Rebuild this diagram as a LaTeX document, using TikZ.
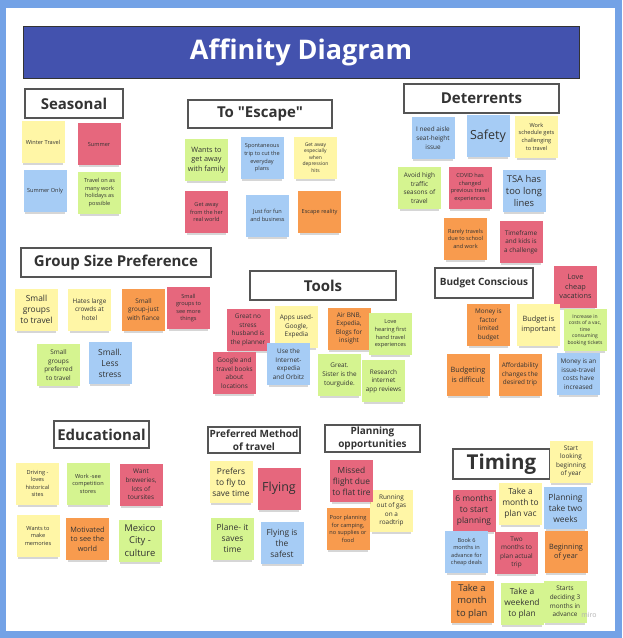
\documentclass[tikz,border=0pt]{standalone}
\usepackage{fontspec}
\setmainfont{Open Sans}[Ligatures=TeXOff]
\usetikzlibrary{shadows}

\definecolor{framebg}{HTML}{73A2E6}
\definecolor{titlebg}{HTML}{4352AE}
\definecolor{noteyellow}{HTML}{FFF6A6}
\definecolor{notered}{HTML}{E6677D}
\definecolor{noteblue}{HTML}{A6CCF5}
\definecolor{notegreen}{HTML}{D5F490}
\definecolor{noteorange}{HTML}{F89B4E}
\definecolor{inktext}{HTML}{333333}
\definecolor{boxline}{HTML}{555555}

\tikzset{
  note/.style={minimum width=43pt, minimum height=42pt, inner sep=1pt,
    align=center, text=inktext,
    drop shadow={shadow xshift=0pt, shadow yshift=-4pt, shadow scale=0.92,
      fill=black, opacity=0.16}},
  yel/.style={note, fill=noteyellow},
  red/.style={note, fill=notered},
  blu/.style={note, fill=noteblue},
  grn/.style={note, fill=notegreen},
  org/.style={note, fill=noteorange},
  fxs/.style={font=\fontsize{5}{6.6}\selectfont},
  fs/.style={font=\fontsize{5.6}{7.6}\selectfont},
  fm/.style={font=\fontsize{6.4}{8.6}\selectfont},
  fl/.style={font=\fontsize{7.3}{9.6}\selectfont},
  fxl/.style={font=\fontsize{8.4}{11}\selectfont},
  fxxl/.style={font=\fontsize{9.4}{12.2}\selectfont},
  fh/.style={font=\fontsize{12.5}{14}\selectfont},
  head/.style={draw=boxline, line width=1.1pt, fill=white, text=inktext,
    inner sep=0pt, align=center, font=\bfseries\fontsize{15}{17}\selectfont},
  headsm/.style={head, font=\bfseries\fontsize{10}{12.5}\selectfont},
}

\begin{document}
\begin{tikzpicture}[x=1pt, y=-1pt]
\useasboundingbox (0,0) rectangle (622,638);

% board frame
\fill[framebg] (0,0) rectangle (622,638);
\fill[white] (6,8) rectangle (615,631);

% title bar
\node[fill=titlebg, draw=inktext, line width=0.6pt, minimum width=556pt,
  minimum height=52pt, text=white,
  font=\bfseries\fontsize{27}{30}\selectfont] (title) at (301,52) {Affinity Diagram};

% ---------- Seasonal ----------
\node[head, minimum width=98pt, minimum height=29pt] (h-season) at (74,103.5) {Seasonal};
\node[yel, fs] (sea1) at (43,142) {Winter Travel};
\node[red, fs] (sea2) at (99,144) {Summer};
\node[blu, fs] (sea3) at (45,191) {Summer Only};
\node[grn, fs] (sea4) at (99.5,192.5) {Travel on as\\many work\\holidays as\\possible};

% ---------- To "Escape" ----------
\node[head, minimum width=144pt, minimum height=28pt] (h-escape) at (260,114) {To "Escape"};
\node[grn, fl] (esc1) at (206.5,160) {Wants to\\get away\\with family};
\node[blu, fs] (esc2) at (262,158) {Spontaneous\\trip to cut the\\everyday\\plans};
\node[yel, fxs] (esc3) at (315.5,157.5) {Get away\\especially\\when\\depression\\hits};
\node[red, fs] (esc4) at (206.5,212) {Get away\\from the her\\real world};
\node[blu, fs] (esc5) at (267.5,215.5) {Just for fun\\and business};
\node[org, fs] (esc6) at (319.5,212) {Escape reality};

% ---------- Deterrents ----------
\node[head, minimum width=155pt, minimum height=29pt] (h-deter) at (481.5,98.5) {Deterrents};
\node[blu, fm] (det1) at (433,138) {I need aisle\\seat-height\\issue};
\node[blu, fh] (det2) at (488,136) {Safety};
\node[yel, fs] (det3) at (536.5,136.5) {Work\\schedule gets\\challenging\\to travel};
\node[grn, fm] (det4) at (419.5,188) {Avoid high\\traffic\\seasons of\\travel};
\node[red, fs] (det5) at (470,187.5) {COVID has\\changed\\previous travel\\experiences};
\node[blu, fxxl] (det6) at (524,191) {TSA has\\too long\\lines};
\node[org, fs] (det7) at (465.5,238.5) {Rarely travels\\due to school\\and work};
\node[red, fm] (det8) at (521,242) {Timeframe\\and kids is\\a challenge};

% ---------- Group Size Preference ----------
\node[head, minimum width=190pt, minimum height=29pt] (h-group) at (116,262.5) {Group Size Preference};
\node[yel, fxl] (grp1) at (36.5,309.5) {Small\\groups\\to travel};
\node[yel, fm] (grp2) at (89.5,309.5) {Hates large\\crowds at\\hotel};
\node[org, fm] (grp3) at (143.5,309.5) {Small\\group-just\\with fiance};
\node[red, fs] (grp4) at (188.5,308) {Small\\groups to\\see more\\things};
\node[grn, fm] (grp5) at (58.5,365) {Small\\groups\\preferred\\to travel};
\node[blu, fxl] (grp6) at (110,363) {Small.\\Less\\stress};

% ---------- Tools ----------
\node[head, minimum width=146pt, minimum height=29pt] (h-tools) at (323,285.5) {Tools};
\node[red, fm] (tol1) at (248,330) {Great no\\stress\\husband is\\the planner};
\node[yel, fm] (tol2) at (296.5,326.5) {Apps used-\\Google,\\Expedia};
\node[org, fm] (tol3) at (349,328.5) {Air BNB,\\Expedia,\\Blogs for\\insight};
\node[grn, fs] (tol4) at (390.5,334) {Love\\hearing first\\hand travel\\experiences};
\node[red, fm] (tol5) at (234.5,373) {Google and\\travel books\\about\\locations};
\node[blu, fm] (tol6) at (288.5,364) {Use the\\Internet-\\expedia\\and Orbitz};
\node[grn, fm] (tol7) at (339.5,375) {Great.\\Sister is the\\tourguide.};
\node[grn, fm] (tol8) at (383.5,381) {Research\\internet\\app reviews};

% ---------- Budget Conscious ----------
\node[headsm, minimum width=98pt, minimum height=30pt] (h-budget) at (484,283) {Budget Conscious};
\node[red, fl] (bud1) at (575.5,286.5) {Love\\cheap\\vacations};
\node[org, fm] (bud2) at (488.5,325) {Money is\\factor\\limited\\budget};
\node[yel, fl] (bud3) at (538.5,324.5) {Budget is\\important};
\node[grn, fxs] (bud4) at (585,330) {Increase in\\costs of a vac,\\time\\consuming\\booking tickets};
\node[org, fl] (bud5) at (468,374.5) {Budgeting\\is difficult};
\node[org, fm] (bud6) at (520,374.5) {Affordability\\changes the\\desired trip};
\node[blu, fm] (bud7) at (578.5,374) {Money is an\\issue-travel\\costs have\\increased};

% ---------- Educational ----------
\node[head, minimum width=95pt, minimum height=27pt] (h-edu) at (101.5,434.5) {Educational};
\node[yel, fs] (edu1) at (37.5,483.5) {Driving -\\loves\\historical\\sites};
\node[grn, fs] (edu2) at (88,483.5) {Work -see\\competition\\stores};
\node[red, fm] (edu3) at (141,484.5) {Want\\breweries,\\lots of\\toursites};
\node[yel, fs] (edu4) at (38,536) {Wants to\\make\\memories};
\node[org, fl] (edu5) at (87.5,539) {Motivated\\to see the\\world};
\node[grn, fxxl] (edu6) at (140,540.5) {Mexico\\City -\\culture};

% ---------- Preferred Method of travel ----------
\node[headsm, minimum width=92pt, minimum height=26pt] (h-pref) at (254,440) {Preferred Method\\of travel};
\node[yel, fxl] (prf1) at (231,482) {Prefers\\to fly to\\save time};
\node[red, fh] (prf2) at (279,488.5) {Flying};
\node[grn, fxl] (prf3) at (232.5,538.5) {Plane- it\\saves\\time};
\node[blu, fxl] (prf4) at (282,543) {Flying is\\the\\safest};

% ---------- Planning opportunities ----------
\node[headsm, minimum width=95pt, minimum height=27pt] (h-plan) at (372.5,438.5) {Planning\\opportunities};
\node[yel, fm] (pln2) at (391.5,510.5) {Running\\out of gas\\on a\\roadtrip};
\node[red, fxl] (pln1) at (351.5,481) {Missed\\flight due\\to flat tire};
\node[org, fs] (pln3) at (348,529) {Poor planning\\for camping,\\no supplies or\\food};

% ---------- Timing ----------
\node[head, minimum width=97pt, minimum height=30pt,
  font=\bfseries\fontsize{20.5}{23}\selectfont] (h-timing) at (501.5,464) {Timing};
\node[yel, fm] (tim1) at (571,461.5) {Start\\looking\\beginning\\of year};
\node[red, fxl] (tim2) at (474,510.5) {6 months\\to start\\planning};
\node[yel, fxl] (tim3) at (520.5,503.5) {Take a\\month to\\plan vac};
\node[blu, fxl] (tim4) at (565.5,508) {Planning\\take two\\weeks};
\node[blu, fs] (tim5) at (466.5,552) {Book 6\\months in\\advance for\\cheap deals};
\node[red, fm] (tim6) at (516.5,552.5) {Two\\months to\\plan actual\\trip};
\node[org, fl] (tim7) at (566,552) {Beginning\\of year};
\node[org, fxxl] (tim8) at (472,601.5) {Take a\\month\\to plan};
\node[grn, fxl] (tim9) at (522,603.5) {Take a\\weekend\\to plan};
\node[grn, fm] (tim10) at (565,601.5) {Starts\\deciding 3\\months in\\advance};

% board watermark
\node[text=black!30, font=\fontsize{7}{8}\selectfont, inner sep=0pt] (mark) at (589,615) {miro};

\end{tikzpicture}
\end{document}
